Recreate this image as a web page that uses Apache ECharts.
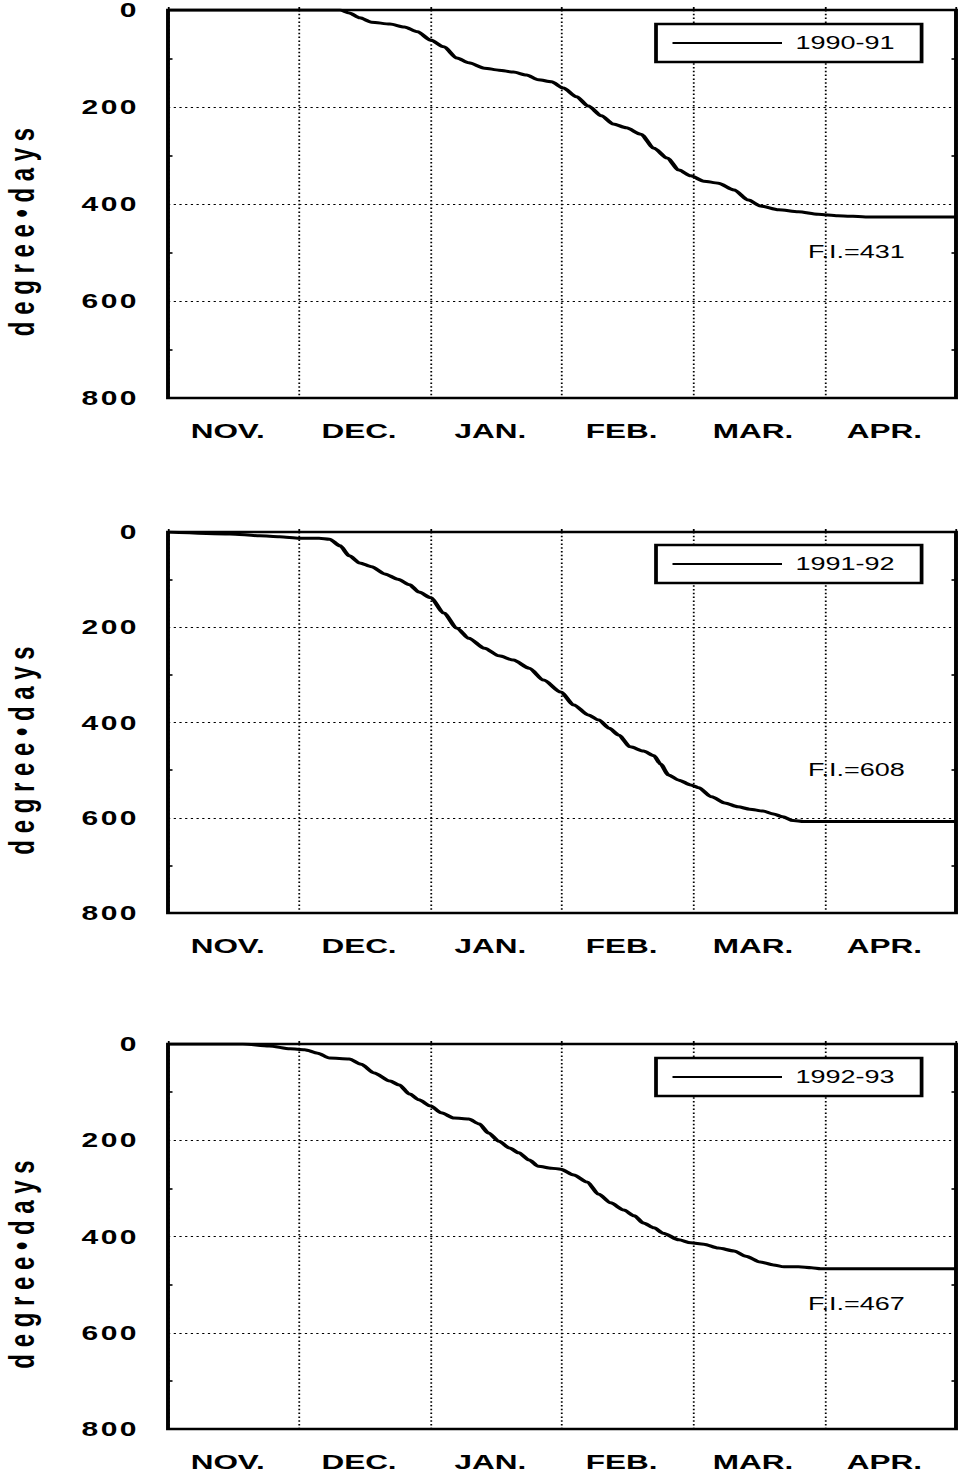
<!DOCTYPE html>
<html>
<head>
<meta charset="utf-8">
<script src="https://cdn.jsdelivr.net/npm/echarts@6/dist/echarts.min.js"></script>
<style>
  html, body { margin: 0; padding: 0; background: #fff; overflow: hidden; }
  #wrap { width: 963px; height: 1476px; overflow: hidden; }
  #chart { width: 642px; height: 1476px; transform: scaleX(1.5); transform-origin: 0 0; }
</style>
</head>
<body>
<div id="wrap"><div id="chart"></div></div>
<script>
// ---- data (x = months since 1 Nov, y = cumulative freezing degree-days) ----
const months = ['NOV.', 'DEC.', 'JAN.', 'FEB.', 'MAR.', 'APR.'];
const yTicks = [0, 200, 400, 600, 800];
const seasons = ['1990-91', '1991-92', '1992-93'];
const freezingIndex = [431, 608, 467];

const season1990 = [
  [0,0],[1.31,0],[1.38,6],[1.46,16],[1.55,25],[1.69,29],[1.80,35],[1.90,45],[2.0,62],
  [2.10,76],[2.20,99],[2.29,109],[2.41,120],[2.52,124],[2.63,128],[2.73,134],[2.82,144],
  [2.92,148],[3.01,161],[3.11,179],[3.20,198],[3.30,218],[3.39,235],[3.49,243],[3.60,256],
  [3.70,285],[3.80,305],[3.89,330],[3.98,342],[4.08,353],[4.19,357],[4.31,371],[4.42,392],
  [4.51,404],[4.65,412],[4.80,416],[4.95,421],[5.10,424],[5.33,427],[6.0,427]
];
const season1991 = [
  [0,0],[0.47,4],[0.70,8],[0.85,10],[1.0,13],[1.15,13],[1.23,15],[1.31,29],[1.38,50],
  [1.46,65],[1.55,73],[1.65,88],[1.75,99],[1.84,111],[1.91,126],[2.0,138],[2.10,170],
  [2.20,202],[2.29,223],[2.41,244],[2.52,260],[2.63,269],[2.75,286],[2.86,311],[2.99,336],
  [3.09,363],[3.20,384],[3.28,395],[3.36,412],[3.43,426],[3.52,451],[3.62,460],[3.70,470],
  [3.75,487],[3.81,510],[3.89,521],[3.98,531],[4.04,537],[4.14,556],[4.24,569],[4.34,577],
  [4.43,582],[4.53,586],[4.61,592],[4.68,598],[4.76,606],[4.84,608],[6.0,608]
];
const season1992 = [
  [0,0],[0.57,0],[0.77,4],[0.93,10],[1.04,12],[1.14,19],[1.23,29],[1.38,31],[1.47,42],
  [1.57,60],[1.69,77],[1.76,85],[1.84,104],[1.91,116],[2.0,129],[2.08,143],[2.18,154],
  [2.29,156],[2.37,166],[2.44,185],[2.52,202],[2.60,216],[2.67,226],[2.75,241],[2.82,254],
  [2.92,258],[2.99,260],[3.09,272],[3.19,287],[3.28,312],[3.37,330],[3.47,345],[3.55,357],
  [3.62,372],[3.70,382],[3.77,393],[3.89,407],[3.98,413],[4.08,416],[4.19,424],[4.31,430],
  [4.40,441],[4.51,453],[4.61,459],[4.69,463],[4.80,463],[4.90,465],[4.97,467],[6.0,467]
];
const seriesData = [season1990, season1991, season1992];

// ---- layout (chart is drawn 1.5x narrower, then stretched horizontally) ----
const S = 1.5;
const FONT = 'Liberation Sans, Arial, Helvetica, sans-serif';
const panels = [
  { top: 10,   height: 388, legTop: 24,   fiY: 243 },
  { top: 532,  height: 381, legTop: 545,  fiY: 761 },
  { top: 1044, height: 385, legTop: 1058, fiY: 1295 }
];
const DOT = [1.5, 2.3];
const spaced = s => String(s).split('').join('\u200A');

const grid = [], xAxis = [], yAxis = [], series = [], legend = [], graphic = [];
panels.forEach((p, i) => {
  grid.push({
    left: 168 / S, right: 7 / S, top: p.top, height: p.height,
    containLabel: false, outerBoundsMode: 'none',
    show: true, borderColor: '#000', borderWidth: 2.6, backgroundColor: 'transparent'
  });
  xAxis.push({
    type: 'value', gridIndex: i, min: 0, max: 6, interval: 1, position: 'bottom',
    axisLine: { show: false },
    axisTick: { show: true, inside: true, length: 3, lineStyle: { color: '#000', width: 1.2 } },
    axisLabel: { show: false },
    splitLine: { show: true, lineStyle: { color: '#000', width: 1.2, type: DOT } }
  });
  xAxis.push({
    type: 'category', gridIndex: i, data: months, position: 'bottom', boundaryGap: true,
    axisLine: { show: false }, axisTick: { show: false }, splitLine: { show: false },
    axisLabel: {
      margin: 22, color: '#000', fontFamily: FONT, fontWeight: 'bold', fontSize: 21,
      padding: [0, 8, 0, 0]
    }
  });
  yAxis.push({
    type: 'value', gridIndex: i, min: 0, max: 800, interval: 200, inverse: true, position: 'left',
    axisLine: { show: false },
    axisTick: { show: false, inside: true },
    minorTick: { show: true, splitNumber: 2, length: 3, lineStyle: { color: '#000', width: 1.6 } },
    axisLabel: {
      margin: 21, color: '#000', fontFamily: FONT, fontWeight: 'bold', fontSize: 20,
      padding: [8, 0, 0, 0],
      formatter: v => yTicks.includes(v) ? spaced(v) : ''
    },
    splitLine: { show: true, lineStyle: { color: '#000', width: 1.2, type: DOT } },
    name: 'd e g r e e • d a y s', nameLocation: 'middle', nameRotate: 90, nameGap: 86,
    nameTextStyle: { color: '#000', fontFamily: FONT, fontWeight: 'bold', fontSize: 24, padding: [0, 56, 0, 0] }
  });
  yAxis.push({
    type: 'value', gridIndex: i, min: 0, max: 800, interval: 200, inverse: true, position: 'right',
    axisLine: { show: false },
    axisTick: { show: false, inside: true },
    minorTick: { show: true, splitNumber: 2, length: 3, lineStyle: { color: '#000', width: 1.6 } },
    axisLabel: { show: false }, splitLine: { show: false }
  });
  series.push({
    type: 'line', name: seasons[i], xAxisIndex: 2 * i, yAxisIndex: 2 * i,
    data: seriesData[i], symbol: 'none', smooth: 0.25, smoothMonotone: 'x',
    lineStyle: { color: '#000', width: 3 }, itemStyle: { color: '#000' }
  });
  legend.push({
    data: [{ name: seasons[i], icon: 'rect' }], left: 656 / S, top: p.legTop, orient: 'horizontal',
    backgroundColor: '#fff', borderColor: '#000', borderWidth: 2.5, borderRadius: 0,
    padding: [10, 18, 10, 11], itemWidth: 73, itemHeight: 2, selectedMode: false,
    itemStyle: { color: '#000', borderWidth: 0 },
    textStyle: { color: '#000', fontFamily: FONT, fontSize: 18, padding: [0, 0, 0, 4] }
  });
  graphic.push({
    type: 'text', left: 808 / S, top: p.fiY, silent: true,
    style: { text: 'F.I.=' + freezingIndex[i], fill: '#000', font: '18px ' + FONT }
  });
});

const chart = echarts.init(document.getElementById('chart'), null, { renderer: 'svg' });
chart.setOption({
  animation: false,
  backgroundColor: '#fff',
  grid, xAxis, yAxis, series, legend, graphic
});
</script>
</body>
</html>
